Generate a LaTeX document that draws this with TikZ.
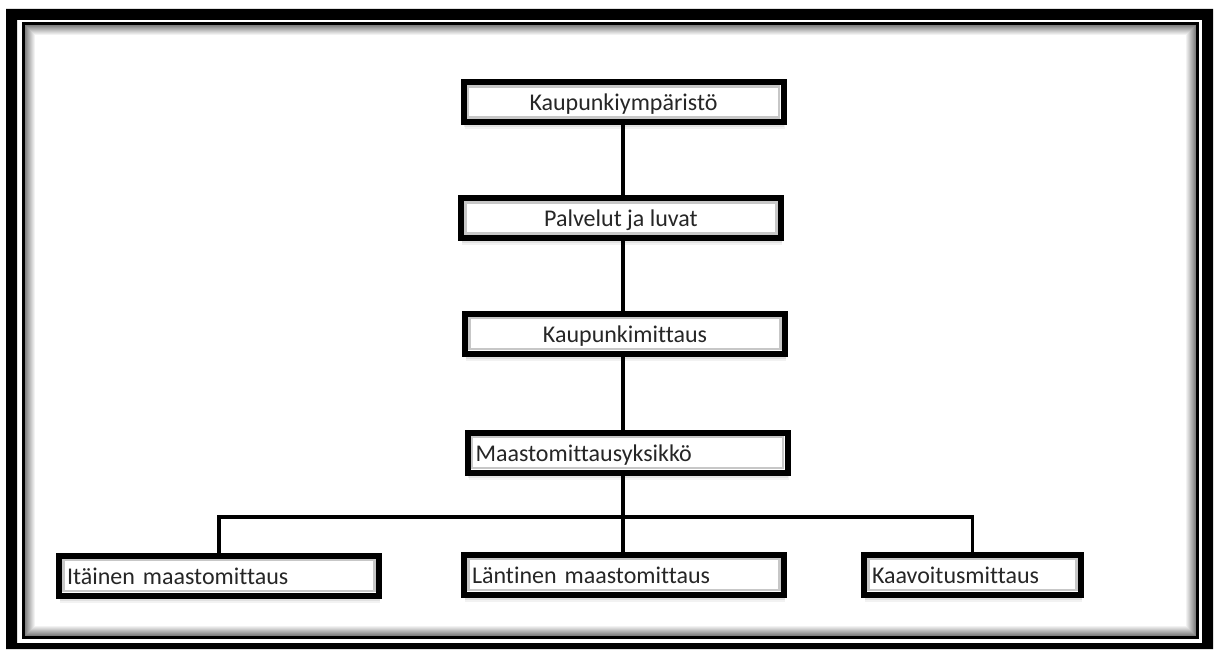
\documentclass[tikz,border=0pt]{standalone}
\usepackage{fontspec}
\setmainfont{Carlito}[Ligatures=NoCommon]
\usetikzlibrary{shadows}

\tikzset{
  laatikko/.style={draw=black,line width=4.5pt,fill=white,minimum height=30pt,
    text height=14pt,text depth=1pt,text=black!85,
    font=\fontsize{18pt}{21pt}\selectfont,
    drop shadow={opacity=0.1,shadow xshift=1pt,shadow yshift=-5.5pt},
    drop shadow={opacity=0.15,shadow xshift=0.5pt,shadow yshift=-4pt},
    path picture={\draw[black!22,line width=2pt]
      ([shift={(3.4pt,3.4pt)}]path picture bounding box.south west) rectangle
      ([shift={(-3.4pt,-3.4pt)}]path picture bounding box.north east);}},
  keski/.style={laatikko,minimum width=240pt},
  vasen/.style={laatikko,text width=#1,align=left,inner xsep=6pt},
  vasen/.default=228pt,
  viiva/.style={line width=2.5pt}
}

\begin{document}
\begin{tikzpicture}[x=0.75pt,y=-0.75pt]
        \useasboundingbox (0,0) rectangle (1219,649);
        % kehys
        \fill[black,even odd rule] (6,9) rectangle (1213,649) (17,20) rectangle (1202,643);
        \draw[line width=2.25pt] (23.5,23.5) rectangle (1197.5,637.5);
        \foreach \i in {0,...,9}{
            \pgfmathsetmacro\harmaa{50-5*\i}
            \draw[line width=0.8pt,black!\harmaa] (25.5+\i,25.5+\i) rectangle (1195.5-\i,635.5-\i);
        }
        % laatikot
        \node[keski] (ymparisto) at (623.5,102) {Kaupunkiympäristö};
        \node[keski] (palvelut) at (621,218) {Palvelut ja luvat};
        \node[keski] (mittaus) at (625,333.5) {Kaupunkimittaus};
        \node[vasen] (maasto) at (627.5,452.5) {Maastomittausyksikkö};
        \node[vasen] (itainen) at (219,575.5) {Itäinen maastomittaus};
        \node[vasen] (lantinen) at (624,574.5) {Läntinen maastomittaus};
        \node[vasen=150.75pt] (kaavoitus) at (972.5,574.5) {Kaavoitusmittaus};
        % viivat
        \coordinate (haara) at (623,517);
        \draw[viiva] (ymparisto.south -| haara) -- (palvelut.north -| haara);
        \draw[viiva] (palvelut.south -| haara) -- (mittaus.north -| haara);
        \draw[viiva] (mittaus.south -| haara) -- (maasto.north -| haara);
        \draw[viiva] (maasto.south -| haara) -- (lantinen.north -| haara);
        \draw[viiva] (itainen.north) |- (haara) -| (kaavoitus.north);
    \end{tikzpicture}
\end{document}
